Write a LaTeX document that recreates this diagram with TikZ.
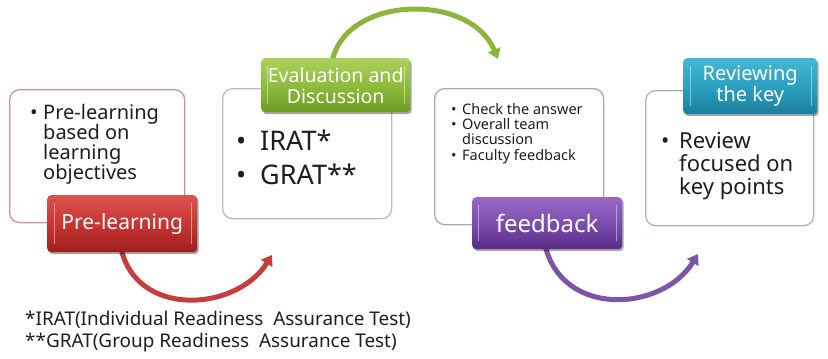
\documentclass[tikz,border=0pt]{standalone}
\usepackage{fontspec}
\setmainfont{Noto Sans}
\usetikzlibrary{arrows.meta,shadows}
\definecolor{redTop}{HTML}{DA5450}
\definecolor{redMid}{HTML}{C83532}
\definecolor{redBot}{HTML}{9C1F1E}
\definecolor{greenTop}{HTML}{ADD15C}
\definecolor{greenMid}{HTML}{90BC3E}
\definecolor{greenBot}{HTML}{6E9A24}
\definecolor{purpTop}{HTML}{9768C4}
\definecolor{purpMid}{HTML}{7D4EAE}
\definecolor{purpBot}{HTML}{582B88}
\definecolor{tealTop}{HTML}{45B8D4}
\definecolor{tealMid}{HTML}{2BA0C0}
\definecolor{tealBot}{HTML}{1B7F9C}
\definecolor{edgeR}{HTML}{C99494}
\definecolor{edgeG}{HTML}{B9BFAE}
\definecolor{edgeP}{HTML}{ABA3BA}
\definecolor{edgeT}{HTML}{A3B6BE}
\definecolor{arcR}{HTML}{C23F3D}
\definecolor{arcG}{HTML}{8CB53F}
\definecolor{arcP}{HTML}{7C55A9}
\definecolor{ink}{HTML}{1E1E1E}
\begin{document}
\begin{tikzpicture}[x=1pt,y=-1pt,
  whitebox/.style={draw, line width=1.3pt, rounded corners=10pt, fill=white, inner sep=0pt, anchor=north west},
  tabbox/.style={rounded corners=4pt, inner sep=0pt, text=white, align=center, anchor=north west,
     drop shadow={shadow xshift=1.5pt, shadow yshift=-2pt, opacity=0.35, fill=black}},
  flow/.style={line width=5pt, line cap=round, -{Triangle[length=10pt,width=13pt]}},
  gloss/.style={line width=1pt, draw=white, opacity=0.45},
  bodytext/.style={anchor=base west, inner sep=0pt, text=ink}
]
\useasboundingbox (0,0) rectangle (828,359);

% white boxes
\node[whitebox, draw=edgeR, minimum width=175pt, minimum height=133pt] (b1) at (9,89) {};
\node[whitebox, draw=edgeG, minimum width=169pt, minimum height=130pt] (b2) at (222,88) {};
\node[whitebox, draw=edgeP, minimum width=169pt, minimum height=136pt] (b3) at (434,88) {};
\node[whitebox, draw=edgeT, minimum width=168pt, minimum height=135pt] (b4) at (645,90) {};

% box texts
\node[bodytext, font=\fontsize{20}{17}\selectfont] (x1) at (30,119)
  {\begin{tabular}[t]{@{}l@{}l@{}}\makebox[13pt][l]{\textbullet} & Pre-learning\\ & based on\\ & learning\\ & objectives\end{tabular}};
\node[bodytext, font=\fontsize{27}{34}\selectfont] (x2) at (236,150)
  {\begin{tabular}[t]{@{}l@{}l@{}}\makebox[24pt][l]{\textbullet} & IRAT*\\ \textbullet & GRAT**\end{tabular}};
\node[bodytext, font=\fontsize{14.5}{14.7}\selectfont] (x3) at (451,114)
  {\begin{tabular}[t]{@{}l@{}l@{}}\makebox[11pt][l]{\textbullet} & Check the answer\\ \textbullet & Overall team\\ & discussion\\ \textbullet & Faculty feedback\end{tabular}};
\node[bodytext, font=\fontsize{22}{21}\selectfont] (x4) at (661,148)
  {\begin{tabular}[t]{@{}l@{}l@{}}\makebox[18pt][l]{\textbullet} & Review\\ & focused on\\ & key points\end{tabular}};

% arcs (drawn before tabs so the tabs cover their start)
\coordinate (r0) at (121,248);
\coordinate (r1) at (272,255);
\coordinate (g0) at (332,62);
\coordinate (g1) at (498,59);
\coordinate (p0) at (545,245);
\coordinate (p1) at (698,254);
\draw[flow, draw=arcR] (r0) .. controls (136,318) and (236,312) .. (r1);
\draw[flow, draw=arcG] (g0) .. controls (345,-5) and (470,-8) .. (g1);
\draw[flow, draw=arcP] (p0) .. controls (562,318) and (662,312) .. (p1);

% tabs
\node[tabbox, top color=redTop, bottom color=redBot, middle color=redMid,
      minimum width=150pt, minimum height=57pt, font=\fontsize{21}{21}\selectfont] (t1) at (47,195) {Pre-learning};
\node[tabbox, top color=greenTop, bottom color=greenBot, middle color=greenMid,
      minimum width=149pt, minimum height=54pt, font=\fontsize{19.5}{21}\selectfont] (t2) at (261,58) {Evaluation and\\Discussion};
\node[tabbox, top color=purpTop, bottom color=purpBot, middle color=purpMid,
      minimum width=150pt, minimum height=52pt, font=\fontsize{24}{24}\selectfont] (t3) at (472,197) {feedback};
\node[tabbox, top color=tealTop, bottom color=tealBot, middle color=tealMid,
      minimum width=134pt, minimum height=56pt, font=\fontsize{20}{21}\selectfont] (t4) at (683,58) {Reviewing\\the key};

% glossy edge highlights
\draw[gloss] ([xshift=7pt,yshift=-8pt]t1.north west) -- ([xshift=7pt,yshift=8pt]t1.south west);
\draw[gloss] ([xshift=-6pt,yshift=-8pt]t1.north east) -- ([xshift=-6pt,yshift=8pt]t1.south east);
\draw[gloss] ([xshift=6pt,yshift=-8pt]t2.north west) -- ([xshift=6pt,yshift=8pt]t2.south west);
\draw[gloss] ([xshift=-6pt,yshift=-8pt]t2.north east) -- ([xshift=-6pt,yshift=8pt]t2.south east);
\draw[gloss] ([xshift=6pt,yshift=-8pt]t3.north west) -- ([xshift=6pt,yshift=8pt]t3.south west);
\draw[gloss] ([xshift=-6pt,yshift=-8pt]t3.north east) -- ([xshift=-6pt,yshift=8pt]t3.south east);
\draw[gloss] ([xshift=7pt,yshift=-8pt]t4.north west) -- ([xshift=7pt,yshift=8pt]t4.south west);
\draw[gloss] ([xshift=-6pt,yshift=-8pt]t4.north east) -- ([xshift=-6pt,yshift=8pt]t4.south east);

% footnote
\node[bodytext, font=\fontsize{18.9}{22}\selectfont] (fn) at (25,325)
  {\begin{tabular}[t]{@{}l@{}}*IRAT(Individual Readiness\ \ Assurance Test)\\{}**GRAT(Group Readiness\ \ Assurance Test)\end{tabular}};
\end{tikzpicture}
\end{document}
